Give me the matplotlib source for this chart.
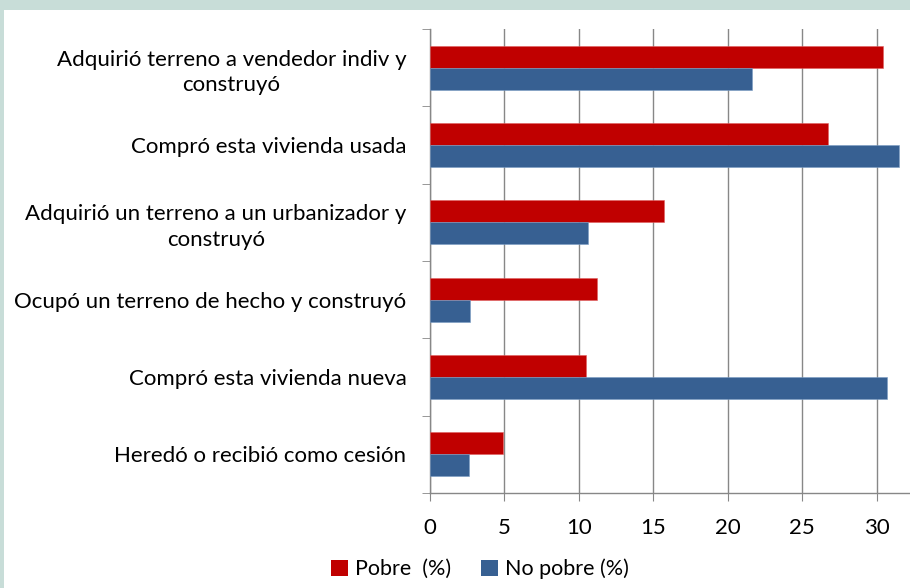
import numpy as np
import matplotlib
matplotlib.use('Agg')
import matplotlib.pyplot as plt
import matplotlib.patches as mpatches

plt.rcParams['font.family'] = ['Lato', 'DejaVu Sans']

# data (top to bottom)
categorias = [
    'Adquirió terreno a vendedor indiv y\nconstruyó',
    'Compró esta vivienda usada',
    'Adquirió un terreno a un urbanizador y\nconstruyó',
    'Ocupó un terreno de hecho y construyó',
    'Compró esta vivienda nueva',
    'Heredó o recibió como cesión',
]
pobre = [30.4, 26.7, 15.7, 11.2, 10.5, 4.9]
no_pobre = [21.6, 31.5, 10.6, 2.7, 30.7, 2.6]
xticks = [0, 5, 10, 15, 20, 25, 30]

RED = '#C00000'
BLUE = '#376092'
GRID = '#878787'
FS = 16

fig = plt.figure(figsize=(9.1, 5.88), dpi=100)
fig.patch.set_facecolor('#C8DDD8')
fig.patches.append(mpatches.Rectangle((4/910, 0), 1, 1 - 10/588, transform=fig.transFigure,
                                      facecolor='white', edgecolor='none', zorder=-10))

ax = fig.add_axes([430/910, 1 - 493/588, 480/910, (493 - 29)/588])
ax.set_facecolor('none')

y = np.arange(len(categorias))[::-1]
h = 0.285
ax.barh(y + h/2, pobre, h, color=RED, edgecolor='#E06060', linewidth=0.4, label='Pobre  (%)', zorder=3)
ax.barh(y - h/2, no_pobre, h, color=BLUE, edgecolor='#7A9CC4', linewidth=0.4, label='No pobre (%)', zorder=3)

ax.set_xlim(0, 480/14.89)
ax.set_ylim(-0.5, len(categorias) - 0.5)
ax.set_xticks(xticks)
ax.set_xticklabels([str(t) for t in xticks], fontsize=FS)
ax.tick_params(axis='x', length=6, color=GRID, pad=12)

ax.set_yticks(y)
ax.set_yticklabels(categorias, fontsize=FS, multialignment='center', linespacing=1.35)
ax.set_yticks(np.arange(-0.5, len(categorias)), minor=True)
ax.tick_params(axis='y', which='major', length=0, pad=17)
ax.tick_params(axis='y', which='minor', length=6, color=GRID)

ax.grid(axis='x', color=GRID, linewidth=1, zorder=1)
for s in ['top', 'right']:
    ax.spines[s].set_visible(False)
for s in ['left', 'bottom']:
    ax.spines[s].set_color(GRID)
    ax.spines[s].set_linewidth(1)

handles = [mpatches.Patch(facecolor=RED, label='Pobre  (%)'),
           mpatches.Patch(facecolor=BLUE, label='No pobre (%)')]
fig.legend(handles=handles, loc='center', bbox_to_anchor=(480/910, 1 - 569/588),
           ncol=2, frameon=False, fontsize=15.5, handlelength=0.8, handleheight=0.8,
           handletextpad=0.3, columnspacing=1.4)

fig.savefig('out.png', dpi=100, facecolor=fig.get_facecolor())
